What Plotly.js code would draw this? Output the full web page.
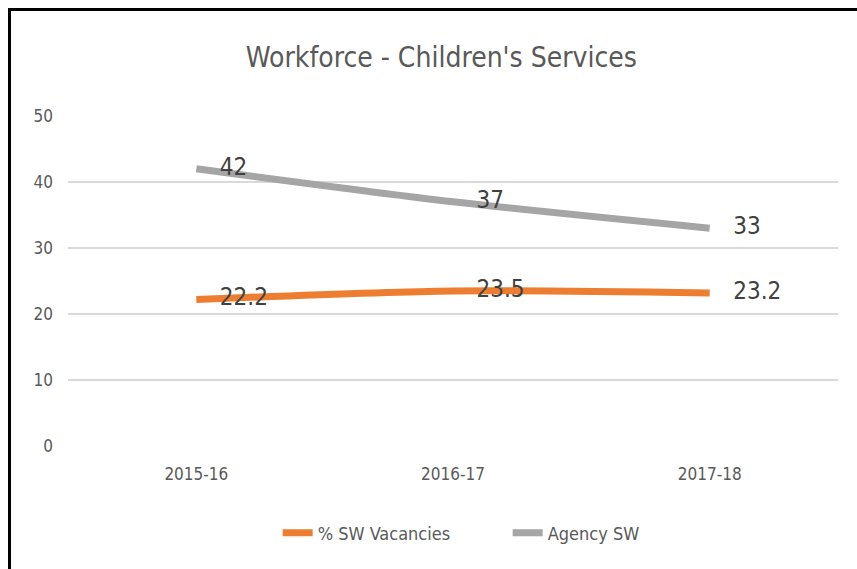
<!DOCTYPE html>
<html>
<head>
<meta charset="utf-8">
<script src="https://cdn.plot.ly/plotly-3.0.1.min.js"></script>
<style>
  html, body { margin: 0; padding: 0; background: #fff; overflow: hidden; }
  #chart { position: absolute; left: 0; top: 0; width: 857px; height: 569px; }
  #frame {
    position: absolute; left: 8px; top: 8px; width: 900px; height: 600px;
    border-left: 3px solid #000; border-top: 3px solid #000; pointer-events: none;
  }
</style>
</head>
<body>
<div id="chart"></div>
<div id="frame"></div>
<script>
// data
const years = ['2015-16', '2016-17', '2017-18'];
const vacancies = [22.2, 23.5, 23.2];
const agency = [42, 37, 33];

const FONT = '"DejaVu Sans Condensed", "DejaVu Sans", sans-serif';

function lineTrace(name, vals, colour) {
  return {
    x: years, y: vals, name: name,
    type: 'scatter', mode: 'lines',
    line: { color: colour, width: 7, shape: 'spline', smoothing: 0.8 },
    cliponaxis: false
  };
}

// value labels, pushed right of the point by an invisible marker
function labelTrace(vals) {
  return {
    x: years, y: vals,
    type: 'scatter', mode: 'markers+text',
    marker: { size: 36, opacity: 0 },
    texttemplate: '%{y}',
    textposition: 'middle right',
    textfont: { family: FONT, size: 24, color: '#404040' },
    showlegend: false,
    cliponaxis: false
  };
}

const traces = [
  lineTrace('% SW Vacancies', vacancies, '#ED7D31'),
  lineTrace('Agency SW', agency, '#A5A5A5'),
  labelTrace(vacancies),
  labelTrace(agency)
];

const layout = {
  width: 857,
  height: 569,
  margin: { l: 68, r: 19, t: 116, b: 123 },
  paper_bgcolor: '#ffffff',
  plot_bgcolor: '#ffffff',
  font: { family: FONT, color: '#595959', size: 17 },
  title: {
    text: "Workforce - Children's Services",
    font: { family: FONT, size: 28, color: '#595959' },
    x: 0.515, xanchor: 'center',
    y: 0.9, yanchor: 'middle', yref: 'container'
  },
  xaxis: {
    type: 'category',
    range: [-0.5, 2.5],
    showgrid: false,
    zeroline: false,
    showline: false,
    ticks: '',
    ticklabelstandoff: 16,
    tickfont: { family: FONT, size: 17, color: '#595959' }
  },
  yaxis: {
    range: [0, 50],
    dtick: 10,
    showgrid: true,
    gridcolor: '#d9d9d9',
    gridwidth: 2,
    zeroline: false,
    showline: false,
    ticks: '',
    ticklabelstandoff: 14,
    tickfont: { family: FONT, size: 17, color: '#595959' }
  },
  showlegend: true,
  legend: {
    orientation: 'h',
    x: 0.571, xanchor: 'center',
    y: -0.264, yanchor: 'middle',
    font: { family: FONT, size: 18, color: '#595959' },
    itemwidth: 30,
    entrywidth: 185,
    tracegroupgap: 0
  }
};

Plotly.newPlot('chart', traces, layout, { displayModeBar: false, staticPlot: true });
</script>
</body>
</html>
